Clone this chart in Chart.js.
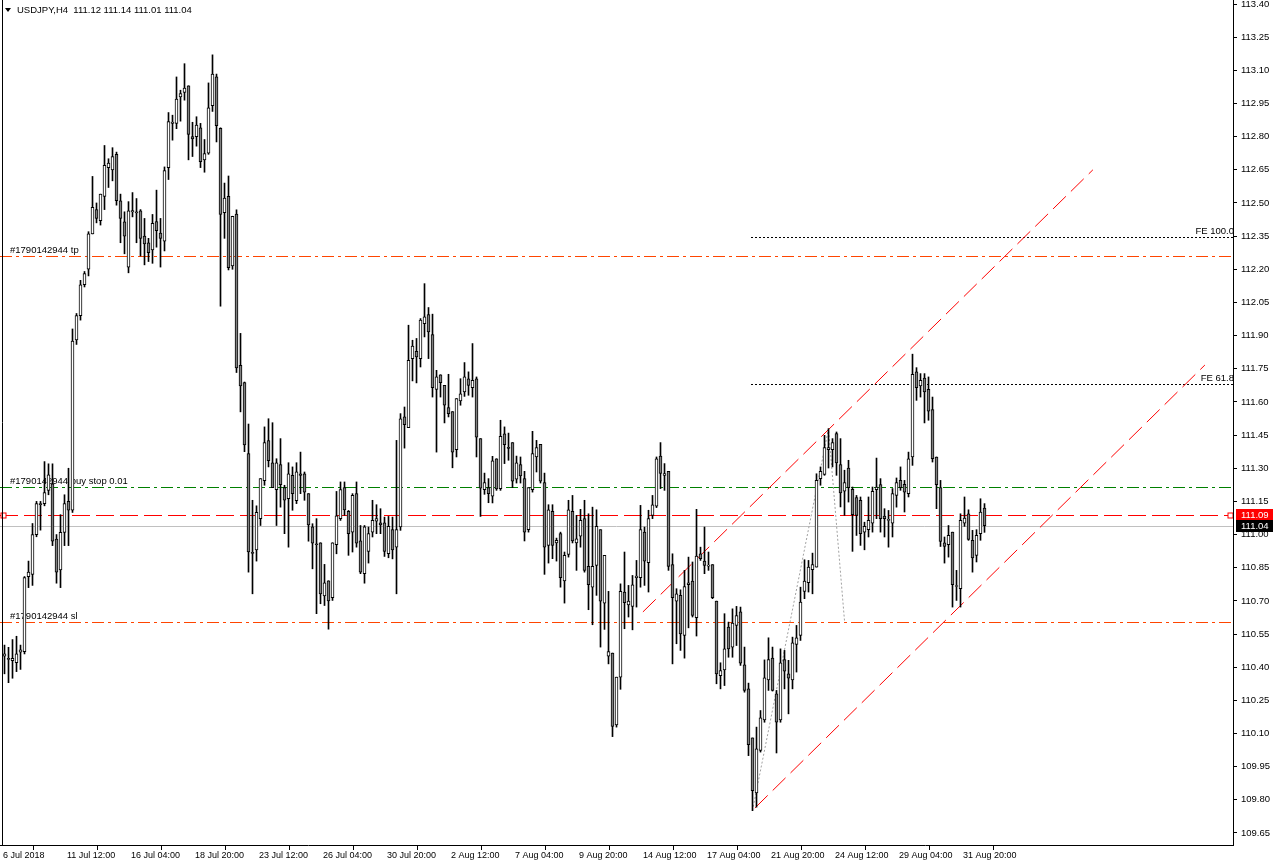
<!DOCTYPE html>
<html>
<head>
<meta charset="utf-8">
<title>USDJPY,H4</title>
<script src="https://cdn.jsdelivr.net/npm/chart.js@4.4.1/dist/chart.umd.min.js"></script>
<style>
  html, body { margin: 0; padding: 0; background: #fff; }
</style>
</head>
<body>
<canvas id="usdjpy" width="1276" height="867"></canvas>
<script>
// H4 candles, 6 Jul 2018 20:00 .. 3 Sep 2018
const opens = [110.45,110.44,110.43,110.42,110.468,110.47,110.81,110.82,111.00,111.14,
  111.14,111.20,111.23,110.98,110.84,111.01,111.15,111.11,111.88,111.99,
  112.13,112.20,112.36,112.47,112.42,112.53,112.66,112.65,112.72,112.51,
  112.415,112.21,112.46,112.46,112.464,112.35,112.32,112.288,112.416,112.364,
  112.327,112.66,112.86,112.86,112.98,113.00,113.03,112.80,112.80,112.84,
  112.695,112.725,112.94,113.07,112.838,112.456,112.53,112.215,112.45,111.766,
  111.688,111.366,110.92,110.93,111.072,111.244,111.425,111.325,111.203,111.316,
  111.212,111.162,111.268,111.153,111.275,111.275,111.185,111.035,110.955,110.963,
  110.722,110.791,110.714,110.954,111.072,111.212,111.105,111.011,111.185,110.972,
  110.823,110.924,111.011,111.061,111.053,111.053,110.913,111.022,110.943,111.034,
  111.532,111.484,111.796,111.829,111.796,111.954,111.995,111.905,111.656,111.723,
  111.675,111.574,111.556,111.384,111.604,111.645,111.705,111.665,111.705,111.434,
  111.203,111.212,111.174,111.343,111.208,111.456,111.395,111.416,111.25,111.316,
  111.253,111.022,111.203,111.351,111.408,111.235,110.951,111.105,110.962,111.004,
  110.79,110.91,111.105,110.962,110.993,111.072,110.856,110.762,110.86,111.022,
  110.69,110.45,110.464,110.139,110.355,110.74,110.682,110.675,110.805,110.805,
  111.011,110.873,111.087,111.128,111.355,111.268,111.286,110.864,110.699,110.725,
  110.544,110.773,110.79,110.624,110.913,110.88,110.857,110.864,110.699,110.362,
  110.388,110.581,110.491,110.589,110.651,110.411,110.302,110.08,109.831,110.023,
  110.162,110.343,110.441,110.28,110.162,110.434,110.37,110.343,110.503,110.544,
  110.743,110.782,110.841,110.853,111.253,111.272,111.384,111.384,111.457,111.316,
  111.196,111.301,111.205,111.167,111.155,111.011,111.022,111.052,111.203,111.226,
  111.084,111.064,111.052,111.177,111.245,111.227,111.185,111.351,111.736,111.672,
  111.708,111.657,111.565,111.351,111.212,110.963,110.954,111.011,110.765,110.755,
  111.052,111.094,110.974,110.906,111.004,111.12];
const highs = [110.50,110.49,110.525,110.54,110.50,110.81,110.88,111.05,111.15,111.15,
  111.33,111.32,111.32,111.00,111.09,111.18,111.30,111.93,112.00,112.15,
  112.19,112.37,112.62,112.50,112.54,112.76,112.70,112.75,112.73,112.54,
  112.46,112.506,112.547,112.52,112.47,112.43,112.34,112.448,112.558,112.43,
  112.663,112.909,112.897,113.07,113.01,113.13,113.03,112.865,112.89,112.86,
  112.787,113.043,113.17,113.083,112.84,112.59,112.622,112.44,112.469,111.91,
  111.69,111.50,111.155,111.13,111.253,111.487,111.524,111.506,111.343,111.434,
  111.223,111.325,111.306,111.325,111.373,111.283,111.185,111.049,111.072,110.963,
  110.865,110.791,110.963,111.195,111.238,111.238,111.109,111.185,111.238,111.041,
  111.041,111.034,111.155,111.135,111.117,111.079,111.082,111.079,111.426,111.547,
  111.577,111.947,111.879,111.887,111.977,112.135,112.027,111.997,111.743,111.723,
  111.675,111.725,111.556,111.615,111.705,111.778,111.736,111.864,111.713,111.434,
  111.278,111.253,111.354,111.343,111.517,111.487,111.459,111.416,111.355,111.351,
  111.286,111.212,111.467,111.426,111.408,111.278,111.135,111.135,110.984,111.011,
  110.921,111.155,111.177,111.087,111.114,111.155,111.094,111.124,111.112,111.022,
  110.906,110.743,110.464,110.355,110.777,110.921,110.77,110.815,110.883,111.132,
  111.034,111.11,111.177,111.351,111.416,111.321,111.286,110.913,110.755,110.75,
  110.838,110.898,110.876,111.114,110.943,111.034,110.921,110.864,110.699,110.42,
  110.642,110.604,110.664,110.675,110.672,110.491,110.328,110.08,110.129,110.204,
  110.433,110.533,110.491,110.295,110.483,110.476,110.431,110.536,110.589,110.762,
  110.886,110.883,110.916,111.275,111.306,111.449,111.479,111.434,111.464,111.434,
  111.291,111.336,111.215,111.177,111.17,111.056,111.17,111.215,111.346,111.253,
  111.117,111.109,111.208,111.256,111.306,111.245,111.373,111.816,111.755,111.728,
  111.728,111.713,111.622,111.351,111.245,110.989,111.041,111.011,110.838,111.094,
  111.17,111.112,111.019,111.022,111.162,111.14];
const lows = [110.37,110.33,110.35,110.38,110.39,110.46,110.76,110.77,110.99,111.02,
  111.13,111.18,110.95,110.78,110.76,110.95,110.95,111.10,111.86,111.97,
  112.12,112.17,112.36,112.41,112.40,112.47,112.57,112.60,112.49,112.32,
  112.27,112.184,112.437,112.32,112.26,112.22,112.235,112.227,112.30,112.21,
  112.283,112.606,112.784,112.836,112.87,112.965,112.695,112.71,112.757,112.66,
  112.639,112.72,112.914,112.776,112.033,112.34,112.197,112.20,111.733,111.555,
  111.375,110.83,110.732,110.88,111.041,111.223,111.306,111.212,111.041,111.124,
  111.004,110.943,111.11,111.14,111.185,111.155,110.97,110.845,110.642,110.687,
  110.679,110.572,110.702,110.913,111.064,111.087,110.906,110.921,110.943,110.823,
  110.78,110.871,110.989,111.004,111.004,110.901,110.895,110.89,110.732,111.019,
  111.391,111.484,111.695,111.686,111.758,111.894,111.796,111.622,111.373,111.622,
  111.505,111.532,111.302,111.351,111.585,111.625,111.63,111.622,111.351,111.082,
  111.182,111.144,111.143,111.2,111.2,111.321,111.336,111.212,111.233,111.233,
  110.971,111.011,111.192,111.283,111.233,110.82,110.871,110.891,110.88,110.762,
  110.69,110.898,110.962,110.838,110.943,110.83,110.66,110.592,110.725,110.491,
  110.571,110.415,110.086,110.129,110.30,110.574,110.627,110.569,110.672,110.762,
  110.77,110.74,111.072,111.122,111.208,111.2,110.838,110.415,110.506,110.476,
  110.441,110.578,110.627,110.541,110.883,110.823,110.838,110.71,110.325,110.302,
  110.317,110.445,110.445,110.498,110.408,110.287,110.0,109.751,109.767,110.016,
  110.151,110.295,110.292,110.012,110.151,110.302,110.189,110.302,110.378,110.521,
  110.71,110.74,110.732,110.853,111.223,111.268,111.301,111.306,111.268,111.125,
  111.087,111.147,110.924,110.996,110.951,110.931,110.989,111.011,111.072,111.011,
  110.989,110.943,110.989,111.124,111.2,111.102,111.17,111.313,111.607,111.622,
  111.505,111.517,111.328,111.117,110.946,110.871,110.898,110.672,110.702,110.672,
  111.037,110.974,110.83,110.876,110.974,111.01];
const closes = [110.46,110.435,110.44,110.46,110.479,110.805,110.83,111.00,111.14,111.135,
  111.19,111.27,110.97,110.83,111.01,111.14,111.11,111.875,111.99,112.13,
  112.18,112.36,112.48,112.43,112.54,112.67,112.68,112.71,112.51,112.43,
  112.35,112.464,112.465,112.455,112.34,112.315,112.275,112.408,112.375,112.34,
  112.647,112.868,112.866,112.97,112.995,113.02,112.81,112.79,112.852,112.687,
  112.723,112.93,113.083,112.85,112.448,112.522,112.207,112.44,111.754,111.672,
  111.405,110.922,110.915,111.10,111.253,111.416,111.334,111.212,111.325,111.226,
  111.155,111.275,111.185,111.284,111.268,111.192,111.044,110.961,110.954,110.732,
  110.782,110.70,110.963,111.085,111.204,111.112,111.004,111.177,110.961,110.83,
  111.035,111.004,111.064,111.072,111.044,110.924,111.037,110.931,111.022,111.524,
  111.497,111.788,111.853,111.803,111.97,111.985,111.917,111.665,111.713,111.687,
  111.585,111.547,111.373,111.615,111.637,111.713,111.675,111.698,111.441,111.21,
  111.235,111.185,111.333,111.207,111.444,111.407,111.39,111.242,111.325,111.265,
  111.011,111.212,111.366,111.393,111.241,110.943,111.112,110.951,110.974,110.805,
  110.906,111.112,110.971,110.981,111.064,110.838,110.773,110.856,111.037,110.699,
  110.906,110.471,110.132,110.355,110.743,110.692,110.699,110.773,110.812,111.022,
  110.88,111.072,111.135,111.343,111.276,111.276,110.856,110.714,110.732,110.551,
  110.765,110.782,110.634,110.903,110.891,110.86,110.857,110.714,110.37,110.385,
  110.483,110.483,110.60,110.633,110.418,110.295,110.05,109.842,110.031,110.171,
  110.352,110.434,110.295,110.151,110.42,110.382,110.35,110.51,110.533,110.695,
  110.79,110.853,110.864,111.245,111.286,111.393,111.393,111.416,111.324,111.188,
  111.235,111.212,111.09,111.087,111.004,111.037,111.064,111.195,111.215,111.072,
  111.072,111.064,111.185,111.235,111.212,111.192,111.343,111.725,111.665,111.698,
  111.645,111.558,111.343,111.226,110.969,110.946,110.996,110.773,110.765,111.064,
  111.075,110.978,110.894,110.996,111.102,111.04];

const tickLabels = ["6 Jul 2018", "11 Jul 12:00", "16 Jul 04:00", "18 Jul 20:00", "23 Jul 12:00",
  "26 Jul 04:00", "30 Jul 20:00", "2 Aug 12:00", "7 Aug 04:00", "9 Aug 20:00",
  "14 Aug 12:00", "17 Aug 04:00", "21 Aug 20:00", "24 Aug 12:00", "29 Aug 04:00", "31 Aug 20:00"];
const priceTicks = [109.65, 109.80, 109.95, 110.10, 110.25, 110.40, 110.55, 110.70, 110.85, 111.00,
  111.15, 111.30, 111.45, 111.60, 111.75, 111.90, 112.05, 112.20, 112.35, 112.50,
  112.65, 112.80, 112.95, 113.10, 113.25, 113.40];

const symbolTitle = "USDJPY,H4  111.12 111.14 111.01 111.04";
const orderLevels = [112.26, 111.215, 110.604];
const orderLabels = ["#1790142944 tp", "#1790142944 buy stop 0.01", "#1790142944 sl"];
const askPrice = 111.09;
const bidPrice = 111.04;
// channel: [bar, price] end points
const channelUpper = [[159.6, 110.65], [272.1, 112.65]];
const channelLower = [[187.6, 109.763], [300.1, 111.767]];
// fibo expansion anchors A, B, C
const fiboPoints = [[187, 109.751], [206, 111.479], [210, 110.61]];
const feLevels = [112.345, 111.683];
const feLabels = ["FE 100.0", "FE 61.8"];

const FONT = "'Liberation Sans', Arial, sans-serif";

const noPad = (scale) => {
  scale.paddingTop = 0;
  scale.paddingBottom = 0;
  scale.paddingLeft = 0;
  scale.paddingRight = 0;
};

const overlay = {
  id: "mt4Objects",
  beforeDatasetsDraw(chart) {
    const { ctx, chartArea: a, scales: { x, y } } = chart;
    const py = (v) => Math.round(y.getPixelForValue(v)) + 0.5;
    ctx.save();
    ctx.beginPath();
    ctx.rect(a.left, a.top, a.right - a.left, a.bottom - a.top);
    ctx.clip();
    ctx.lineWidth = 1;

    const hline = (v, color, dash, x0) => {
      ctx.strokeStyle = color;
      ctx.setLineDash(dash);
      ctx.beginPath();
      ctx.moveTo(x0 === undefined ? a.left : x0, py(v));
      ctx.lineTo(a.right, py(v));
      ctx.stroke();
    };

    // bid / ask
    hline(bidPrice, "#c0c0c0", []);
    hline(askPrice, "#ff0000", [18, 6]);

    // order levels
    const orderColors = ["#ff4500", "#008000", "#ff4500"];
    orderLevels.forEach((v, i) => hline(v, orderColors[i], [12, 4, 3, 4]));

    // fibo expansion levels
    const feStart = Math.round(x.getPixelForValue(fiboPoints[0][0] - 0.5));
    feLevels.forEach((v) => hline(v, "#000000", [2, 2], feStart));

    // fibo expansion trend
    ctx.strokeStyle = "#a0a0a0";
    ctx.setLineDash([2, 2]);
    ctx.beginPath();
    fiboPoints.forEach((p, i) => {
      const px = x.getPixelForValue(p[0]), pyy = y.getPixelForValue(p[1]);
      if (i === 0) ctx.moveTo(px, pyy); else ctx.lineTo(px, pyy);
    });
    ctx.stroke();

    // channel
    ctx.strokeStyle = "#ff0000";
    ctx.setLineDash([18, 7]);
    [channelUpper, channelLower].forEach((ln) => {
      ctx.beginPath();
      ctx.moveTo(x.getPixelForValue(ln[0][0]), y.getPixelForValue(ln[0][1]));
      ctx.lineTo(x.getPixelForValue(ln[1][0]), y.getPixelForValue(ln[1][1]));
      ctx.stroke();
    });
    ctx.setLineDash([]);

    // texts
    ctx.font = "9.5px " + FONT;
    ctx.fillStyle = "#000";
    ctx.textBaseline = "bottom";
    ctx.textAlign = "left";
    orderLevels.forEach((v, i) => ctx.fillText(orderLabels[i], 10, py(v) - 1));
    ctx.textAlign = "right";
    feLevels.forEach((v, i) => ctx.fillText(feLabels[i], a.right + 1, py(v) - 1));

    // ask line anchors
    ctx.strokeStyle = "#ff0000";
    ctx.fillStyle = "#fff";
    [a.left + 3, a.right - 3].forEach((cx) => {
      ctx.fillRect(cx - 2, py(askPrice) - 2.5, 5, 5);
      ctx.strokeRect(cx - 2, py(askPrice) - 2.5, 5, 5);
    });
    ctx.restore();
  },
  afterDraw(chart) {
    const { ctx, chartArea: a, scales: { y } } = chart;
    ctx.save();
    // left frame
    ctx.strokeStyle = "#000";
    ctx.lineWidth = 1;
    ctx.beginPath();
    ctx.moveTo(2.5, 0);
    ctx.lineTo(2.5, a.bottom);
    ctx.stroke();

    // price boxes on the axis
    ctx.font = "9.5px " + FONT;
    ctx.textBaseline = "middle";
    ctx.textAlign = "left";
    [[askPrice, "#ff0000"], [bidPrice, "#000000"]].forEach(([v, bg]) => {
      const yy = Math.round(y.getPixelForValue(v));
      ctx.fillStyle = bg;
      ctx.fillRect(a.right + 3, yy - 6, 37, 12);
      ctx.fillStyle = "#fff";
      ctx.fillText(v.toFixed(2), a.right + 8, yy + 0.5);
    });

    // title
    ctx.fillStyle = "#000";
    ctx.beginPath();
    ctx.moveTo(5, 8);
    ctx.lineTo(11, 8);
    ctx.lineTo(8, 12);
    ctx.closePath();
    ctx.fill();
    ctx.fillText(symbolTitle, 17, 10.5);
    ctx.restore();
  }
};

const wicks = opens.map((o, i) => ({ x: i, y: [lows[i], highs[i]] }));
const bodies = opens.map((o, i) => ({ x: i, y: [o, closes[i]] }));
const bodyFill = opens.map((o, i) => (closes[i] < o ? "#808080" : "#ffffff"));

new Chart(document.getElementById("usdjpy"), {
  type: "bar",
  data: {
    datasets: [
      {
        label: "wick",
        data: wicks,
        backgroundColor: "#000000",
        barThickness: 1,
        grouped: false,
        order: 2,
      },
      {
        label: "body",
        data: bodies,
        backgroundColor: bodyFill,
        borderColor: "#000000",
        borderWidth: 1,
        borderSkipped: false,
        barThickness: 3,
        minBarLength: 1,
        grouped: false,
        order: 1,
      },
    ],
  },
  options: {
    responsive: false,
    animation: false,
    events: [],
    layout: { padding: 0 },
    plugins: { legend: { display: false }, tooltip: { enabled: false } },
    scales: {
      x: {
        type: "linear",
        min: -1.125,
        max: 307.125,
        offset: false,
        afterBuildTicks: (scale) => {
          scale.ticks = tickLabels.map((t, k) => ({ value: 16 * k - 0.875 }));
        },
        afterFit: (scale) => { scale.height = 22; noPad(scale); },
        ticks: {
          autoSkip: false,
          maxRotation: 0,
          align: "start",
          labelOffset: 2,
          padding: 0,
          color: "#000",
          font: { family: FONT, size: 9 },
          callback: (v, idx) => tickLabels[idx],
        },
        grid: { drawOnChartArea: false, drawTicks: true, tickLength: 5, color: "#000" },
        border: { color: "#000" },
      },
      y: {
        type: "linear",
        position: "right",
        min: 109.5957,
        max: 113.4181,
        afterBuildTicks: (scale) => {
          scale.ticks = priceTicks.map((v) => ({ value: v }));
        },
        afterFit: (scale) => { scale.width = 43; noPad(scale); },
        ticks: {
          padding: 4,
          color: "#000",
          font: { family: FONT, size: 9.5 },
          callback: (v) => Number(v).toFixed(2),
        },
        grid: { drawOnChartArea: false, drawTicks: true, tickLength: 4, color: "#000" },
        border: { color: "#000" },
      },
    },
  },
  plugins: [overlay],
});
</script>
</body>
</html>
